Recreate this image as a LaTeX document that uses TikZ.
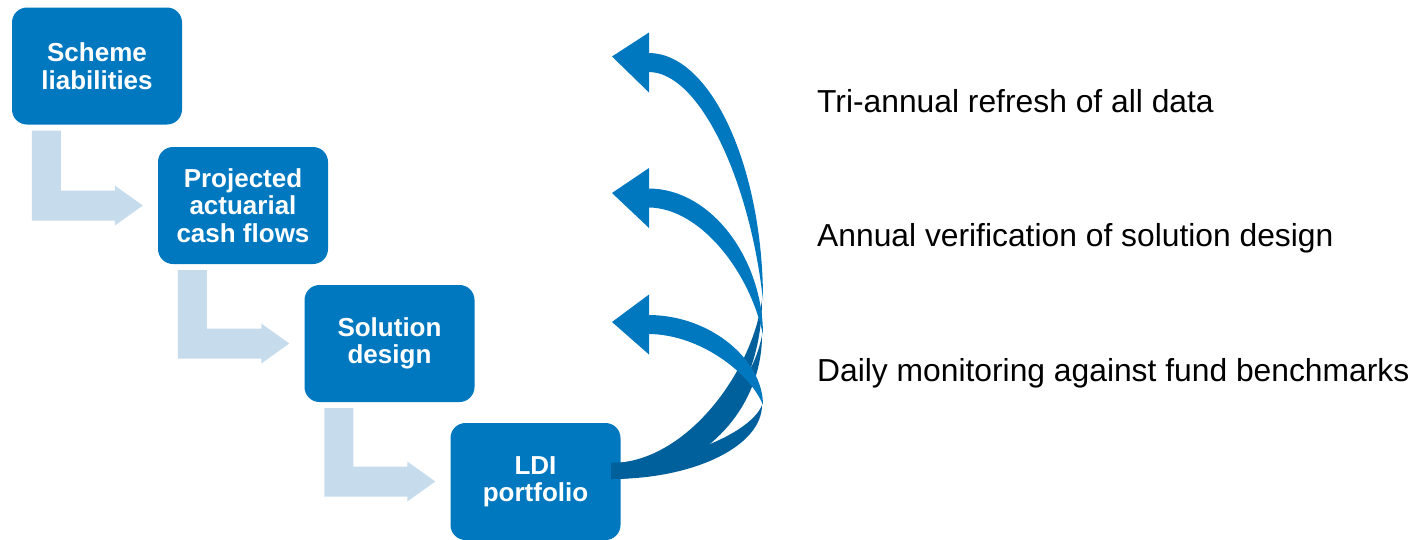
\documentclass[tikz,border=0pt]{standalone}
\usepackage{fontspec}
\setmainfont{Liberation Sans}
\usetikzlibrary{calc}
\definecolor{boxblue}{RGB}{0,120,192}
\definecolor{backblue}{RGB}{0,96,156}
\definecolor{paleblue}{RGB}{198,219,236}

\begin{document}
\begin{tikzpicture}[x=1pt, y=-1pt, line join=round,
    stage/.style={fill=boxblue, rounded corners=15pt, minimum width=170pt, minimum height=117pt,
      inner sep=0pt, text=white, align=center, font=\fontsize{26}{27.5}\selectfont\bfseries},
    bent/.style={fill=paleblue},
    note/.style={anchor=base west, inner sep=0pt, font=\fontsize{31.8}{36}\selectfont}]
    % 画面の大きさ (1418 x 539)
    \useasboundingbox (0,0) rectangle (1418,539);

    % 四つの箱(右下へ 146, 138 ずつ)
    \node[stage] (scheme)   at (97,66)      {Scheme\\liabilities};
    \node[stage] (cashflow) at (243,205.5)  {Projected\\actuarial\\cash flows};
    \node[stage] (solution) at (389.5,343.5) {Solution\\design};
    \node[stage] (ldi)      at (535.5,481.5) {LDI\\portfolio};

    % 箱から箱への淡い折れ矢印
    \foreach \a/\b in {scheme/cashflow, cashflow/solution, solution/ldi}
        \fill[bent] ($(\a.south west)+(20,6)$) -- ++(29,0) |- ($(\b.west)+(-43,-15)$)
            -- ++(0,-5) -- ($(\b.west)+(-15,0)$) -- ++(-28,20) -- ++(0,-5)
            -| ($(\a.south west)+(20,6)$) -- cycle;

    % LDI から戻る三本のねじれ矢印(裏側は濃い青)
    \foreach \h/\d/\q in {62.5/-6/300, 198/-5/335, 324.5/-2.5/405} {
        \pgfmathsetmacro\cc{\q+0.55*(479-\q)}
        \pgfmathsetmacro\cd{\q+0.45*(463-\q)}
        \fill[backblue] (762,\q) .. controls (762,\cc) and (695,479) .. (611,479)
            -- (611,463) .. controls (685,463) and (752,\cd) .. (762,\q) -- cycle;
    }
    \foreach \h/\d/\q [count=\i] in {62.5/-6/300, 198/-5/335, 324.5/-2.5/405} {
        \pgfmathsetmacro\ca{\q-0.55*(\q-\h)}
        \coordinate (tip\i) at (612,\h+\d);
        \fill[boxblue] (649,\h-9.5) .. controls (712,\h-9) and (763,\ca) .. (763,\q)
            .. controls (750,\ca+12) and (700,\h+10) .. (649,\h+9.5) -- cycle;
        \fill[boxblue] (tip\i) -- (649,\h-30) -- (649,\h+30) -- cycle;
    }

    % 右側の説明
    \node[note] (refresh) at (817,112) {Tri-annual refresh of all data};
    \node[note] (verify)  at (817,246) {Annual verification of solution design};
    \node[note] (monitor) at (817,381) {Daily monitoring against fund benchmarks};
\end{tikzpicture}
\end{document}
